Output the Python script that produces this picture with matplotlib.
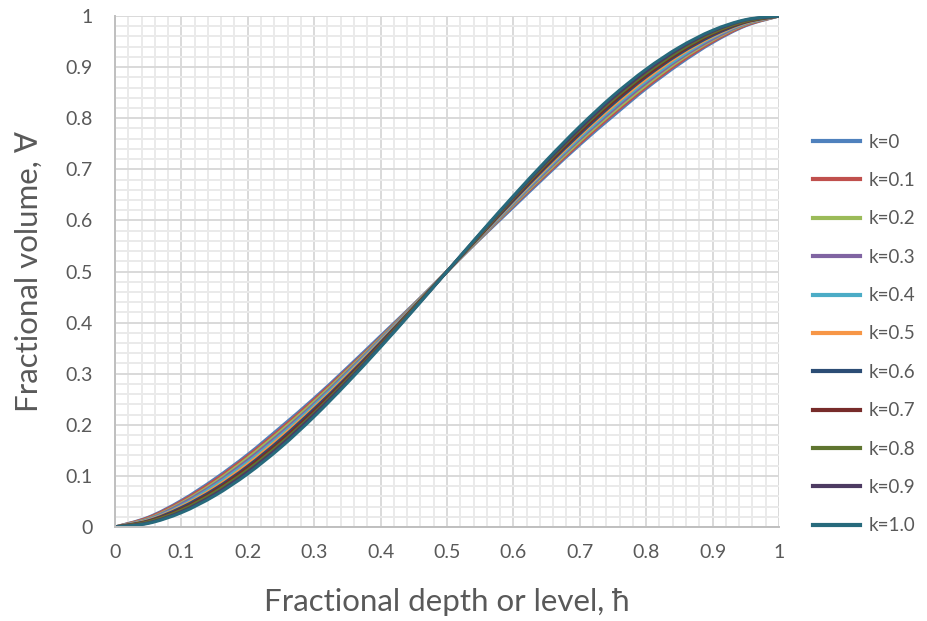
import numpy as np
import matplotlib.pyplot as plt
from matplotlib.ticker import MultipleLocator
from matplotlib.path import Path
from matplotlib.patches import PathPatch
from matplotlib.lines import Line2D

# fractional depth
depth = [0, 0.05, 0.1, 0.15, 0.2, 0.25, 0.3, 0.35, 0.4, 0.45, 0.5,
         0.55, 0.6, 0.65, 0.7, 0.75, 0.8, 0.85, 0.9, 0.95, 1.0]

# fractional volume for each k
vol_k00 = [0, .019, .052, .094, .142, .196, .252, .312, .374, .436, .5,
           .564, .626, .688, .748, .804, .858, .906, .948, .981, 1]
vol_k01 = [0, .018, .050, .091, .139, .192, .249, .309, .371, .435, .5,
           .565, .629, .691, .751, .808, .861, .909, .950, .982, 1]
vol_k02 = [0, .016, .047, .087, .135, .188, .245, .306, .369, .434, .5,
           .566, .631, .694, .755, .812, .865, .913, .953, .984, 1]
vol_k03 = [0, .015, .045, .084, .131, .184, .241, .303, .367, .433, .5,
           .567, .633, .697, .759, .816, .869, .916, .955, .985, 1]
vol_k04 = [0, .014, .042, .081, .127, .180, .238, .300, .365, .432, .5,
           .568, .635, .700, .762, .820, .873, .919, .958, .986, 1]
vol_k05 = [0, .013, .040, .077, .123, .176, .234, .297, .363, .431, .5,
           .569, .637, .703, .766, .824, .877, .923, .960, .987, 1]
vol_k06 = [0, .012, .038, .074, .119, .172, .231, .294, .361, .430, .5,
           .570, .639, .706, .769, .828, .881, .926, .962, .988, 1]
vol_k07 = [0, .011, .035, .071, .116, .168, .227, .291, .358, .429, .5,
           .571, .642, .709, .773, .832, .884, .929, .965, .989, 1]
vol_k08 = [0, .010, .033, .068, .112, .164, .223, .288, .356, .428, .5,
           .572, .644, .712, .777, .836, .888, .932, .967, .990, 1]
vol_k09 = [0, .008, .030, .064, .108, .160, .220, .285, .354, .426, .5,
           .574, .646, .715, .780, .840, .892, .936, .970, .992, 1]
vol_k10 = [0, .007, .028, .061, .104, .156, .216, .282, .352, .425, .5,
           .575, .648, .718, .784, .844, .896, .939, .972, .993, 1]

labels = ['k=0', 'k=0.1', 'k=0.2', 'k=0.3', 'k=0.4', 'k=0.5',
          'k=0.6', 'k=0.7', 'k=0.8', 'k=0.9', 'k=1.0']
series = [vol_k00, vol_k01, vol_k02, vol_k03, vol_k04, vol_k05,
          vol_k06, vol_k07, vol_k08, vol_k09, vol_k10]
colors = ['#4F81BD', '#C0504D', '#9BBB59', '#8064A2', '#4BACC6', '#F79646',
          '#2C4D75', '#772C2A', '#5F7530', '#4D3B62', '#276A7C']


def smooth_path(xs, ys):
    # smoothed line like Excel: catmull-rom segments as cubic beziers
    p = np.column_stack([xs, ys]).astype(float)
    pts = np.vstack([p[0], p, p[-1]])
    verts = [p[0]]
    codes = [Path.MOVETO]
    for i in range(1, len(pts) - 2):
        p0, p1, p2, p3 = pts[i - 1], pts[i], pts[i + 1], pts[i + 2]
        verts += [p1 + (p2 - p0) / 6, p2 - (p3 - p1) / 6, p2]
        codes += [Path.CURVE4] * 3
    return Path(verts, codes)


plt.rcParams['font.family'] = ['Lato', 'DejaVu Sans']
txt = '#595959'

fig = plt.figure(figsize=(9.28, 6.21), dpi=100)
ax = fig.add_axes([0.1239, 0.1514, 0.7155, 0.8228])

handles = []
for lab, vals, col in zip(labels, series, colors):
    ax.add_patch(PathPatch(smooth_path(depth, vals), fill=False,
                           edgecolor=col, lw=2.2, capstyle='butt'))
    handles.append(Line2D([], [], color=col, lw=3, label=lab))

ax.set_xlim(0, 1)
ax.set_ylim(0, 1)
ax.xaxis.set_minor_locator(MultipleLocator(0.02))
ax.yaxis.set_minor_locator(MultipleLocator(0.02))
ax.grid(which='minor', color='#EAEAEA', lw=1.4)
ax.grid(which='major', color='#D9D9D9', lw=1.4)
ax.set_axisbelow(True)

fmt = lambda v: '0' if abs(v) < 1e-9 else ('1' if abs(v - 1) < 1e-9 else f'{v:.1f}')
ticks = np.round(np.arange(0, 1.01, 0.1), 1)
ax.set_xticks(ticks)
ax.set_yticks(ticks)
ax.set_xticklabels([fmt(t) for t in ticks])
ax.set_yticklabels([fmt(t) for t in ticks])
ax.tick_params(which='both', length=0, labelsize=14, labelcolor=txt)
ax.tick_params(axis='x', pad=12)
ax.tick_params(axis='y', pad=16)

for s in ['top', 'right']:
    ax.spines[s].set_visible(False)
for s in ['left', 'bottom']:
    ax.spines[s].set_color('#BFBFBF')
    ax.spines[s].set_linewidth(1.4)

ax.set_xlabel('Fractional depth or level, ħ', fontsize=22.5, color=txt, labelpad=20)
ax.set_ylabel('Fractional volume, ∀', fontsize=22.5, color=txt, labelpad=16)

leg = ax.legend(handles=handles, loc='upper left', bbox_to_anchor=(0.868, 0.797),
                bbox_transform=fig.transFigure, frameon=False,
                fontsize=13.5, handlelength=2.5, handletextpad=0.45,
                labelspacing=1.14, borderaxespad=0)
for t in leg.get_texts():
    t.set_color(txt)

fig.savefig('out.png', dpi=100)
